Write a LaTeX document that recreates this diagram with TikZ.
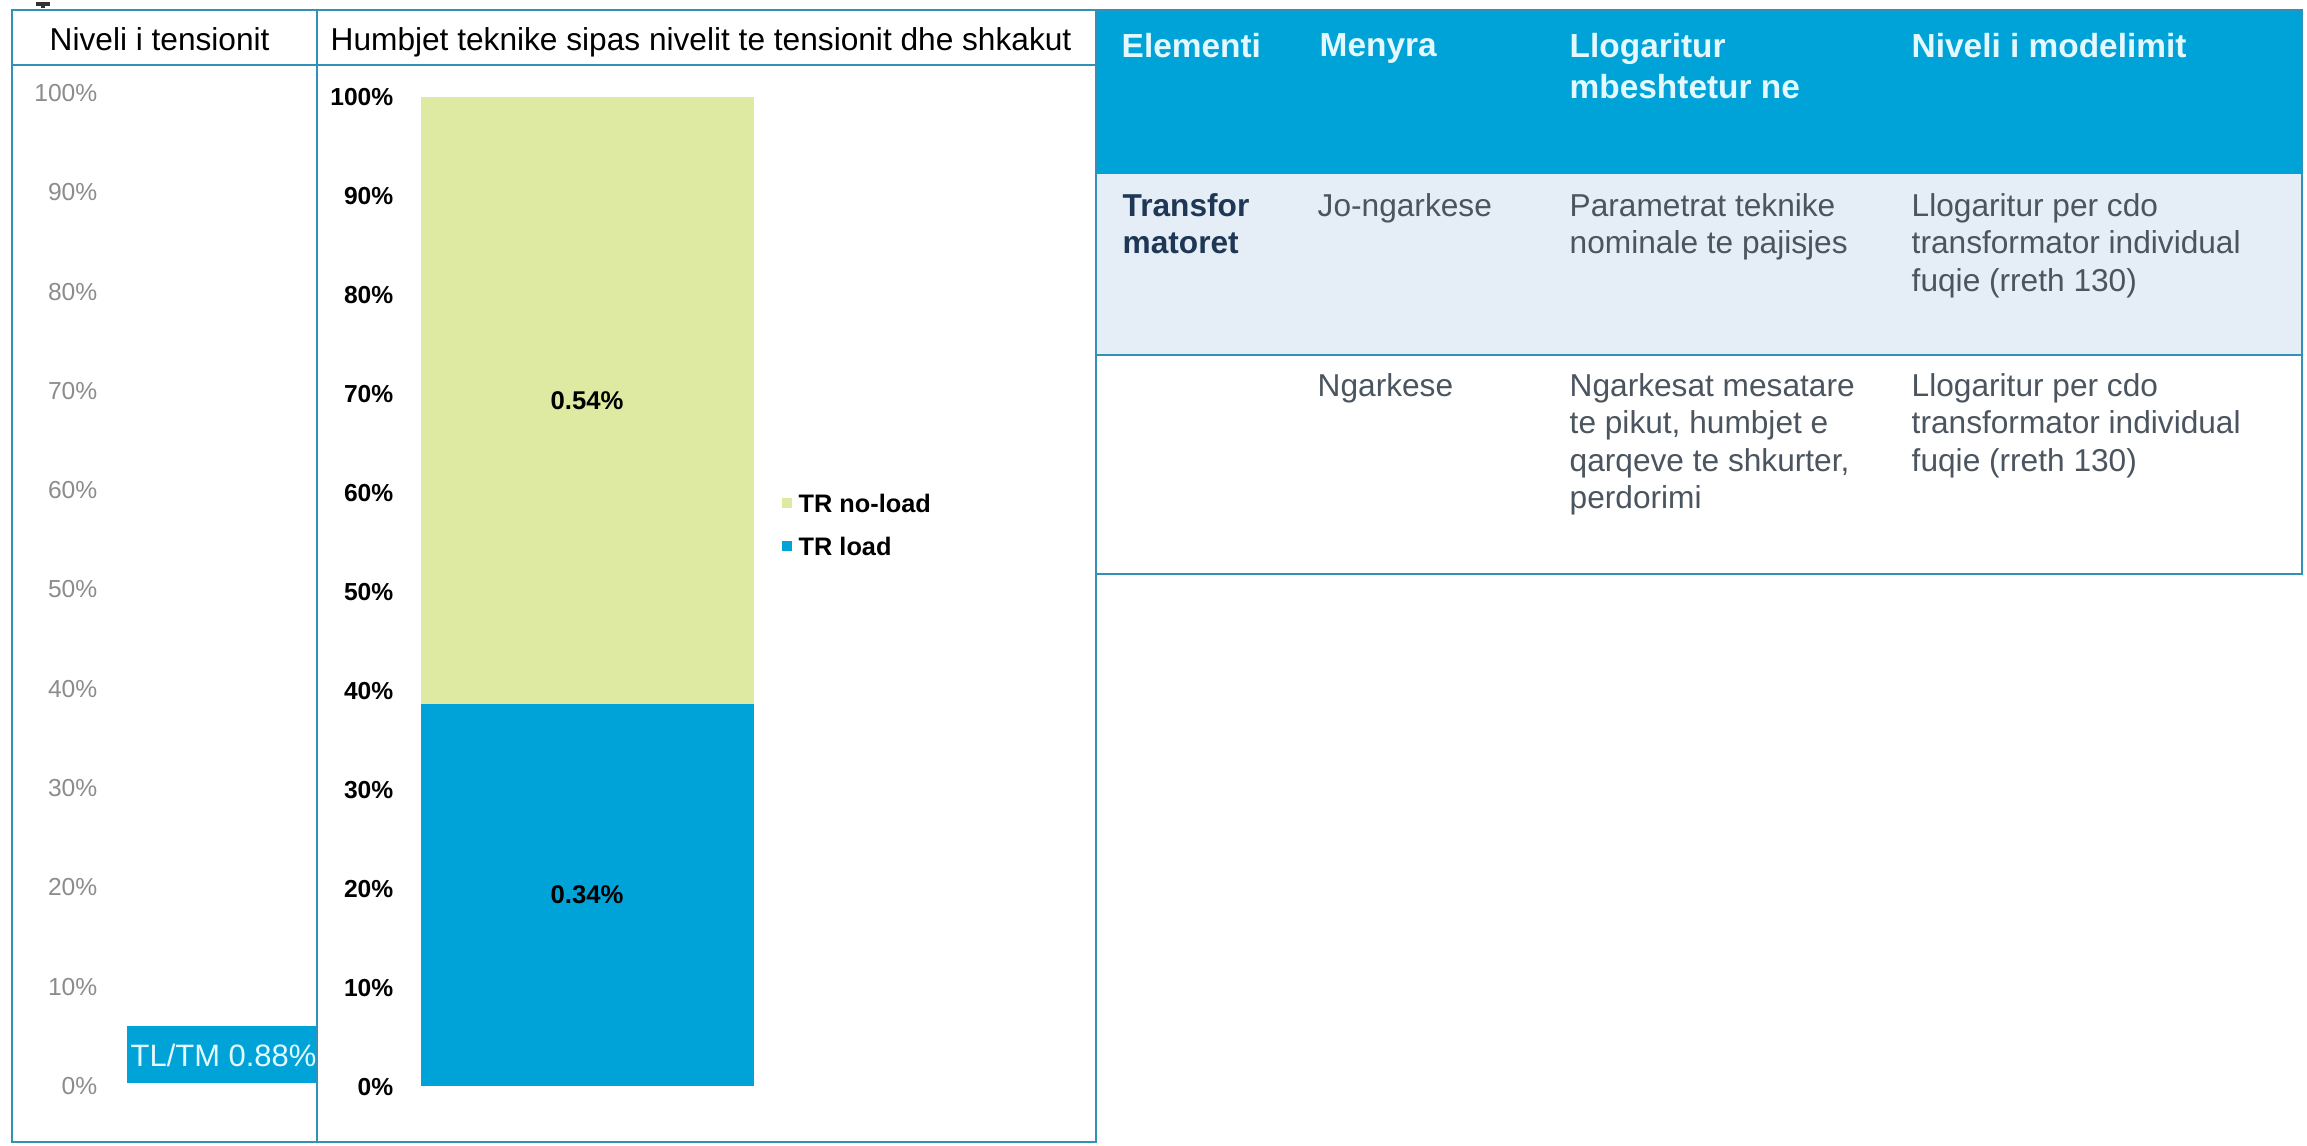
\documentclass[tikz,border=0pt]{standalone}
\usepackage{fontspec}
\setmainfont{Liberation Sans}
\definecolor{tblue}{RGB}{0,163,216}
\definecolor{tgreen}{RGB}{222,233,162}
\definecolor{trow}{RGB}{229,237,246}
\definecolor{tline}{RGB}{50,145,185}
\definecolor{ttext}{RGB}{75,85,95}
\definecolor{tnavy}{RGB}{30,55,85}
\definecolor{thead}{RGB}{228,248,255}
\begin{document}
\begin{tikzpicture}[x=0.01cm, y=-0.01cm,
    frame/.style={draw=tline, line width=0.8pt},
    axl/.style={anchor=east, inner sep=0pt, text=black!45, font=\fontsize{7}{8}\selectfont},
    axr/.style={anchor=east, inner sep=0pt, font=\fontsize{7}{8}\selectfont\bfseries},
    ttl/.style={anchor=base west, inner sep=0pt, font=\fontsize{9}{10}\selectfont},
    val/.style={inner sep=0pt, font=\fontsize{7.3}{8}\selectfont\bfseries},
    lg/.style={anchor=west, inner sep=0pt, font=\fontsize{7.2}{8}\selectfont\bfseries},
    hd/.style={anchor=north west, inner sep=0pt, align=left, text=thead, font=\fontsize{9.5}{11.4}\selectfont\bfseries},
    cell/.style={anchor=north west, inner sep=0pt, align=left, text=ttext, font=\fontsize{9}{10.6}\selectfont}]
    \useasboundingbox (0,0) rectangle (2307,1145);
    \def\barl{421}
    \def\barr{754}
    % table at the right
    \fill[tblue] (1096,10) rectangle (2302,174);
    \fill[trow] (1096,174) rectangle (2302,355);
    \draw[frame] (1096,10) rectangle (2302,574);
    \draw[frame] (1096,355) -- (2302,355);
    \node[hd] (h1) at (1121,33) {Elementi};
    \node[hd] (h2) at (1319,33) {Menyra};
    \node[hd] (h3) at (1569,33) {Llogaritur\\mbeshtetur ne};
    \node[hd] (h4) at (1911,33) {Niveli i modelimit};
    \node[cell, text=tnavy, font=\fontsize{9}{10.6}\selectfont\bfseries] (e1) at (1122,193) {Transfor\\matoret};
    \node[cell] (m1) at (1317,193) {Jo-ngarkese};
    \node[cell] (b1) at (1569,193) {Parametrat teknike\\nominale te pajisjes};
    \node[cell] (n1) at (1911,193) {Llogaritur per cdo\\transformator individual\\fuqie (rreth 130)};
    \node[cell] (m2) at (1317,373) {Ngarkese};
    \node[cell] (b2) at (1569,373) {Ngarkesat mesatare\\te pikut, humbjet e\\qarqeve te shkurter,\\perdorimi};
    \node[cell] (n2) at (1911,373) {Llogaritur per cdo\\transformator individual\\fuqie (rreth 130)};
    % bars
    \fill[tgreen] (\barl,97) rectangle (\barr,704);
    \fill[tblue] (\barl,704) rectangle (\barr,1086);
    \fill[tblue] (127,1026) rectangle (317,1083);
    % frames of the chart
    \draw[frame] (12,10) rectangle (1096,1142);
    \draw[frame] (12,65) -- (1096,65);
    \draw[frame] (317,10) -- (317,1142);
    \draw[line width=1.2pt, black!80] (36,4) -- (50,4) (43,4) -- (43,8);
    \node[ttl] (tens) at (49,50) {Niveli i tensionit};
    \node[ttl] (humb) at (330,50) {Humbjet teknike sipas nivelit te tensionit dhe shkakut};
    \foreach \p [count=\i from 0] in {100,90,...,0}{
        \node[axl] (l\p) at (98,{93+99.3*\i}) {\p\%};
        \node[axr] (r\p) at (394,{97+99*\i}) {\p\%};
    }
    \node[val] (noload) at (587,401) {0.54\%};
    \node[val] (load) at (587,895) {0.34\%};
    \node[anchor=west, inner sep=0pt, text=thead, font=\fontsize{8.8}{10}\selectfont] (tltm) at (130,1055) {TL/TM 0.88\%};
    % legend
    \fill[tgreen] (782,498) rectangle (792,508);
    \node[lg] (lgn) at (798,503) {TR no-load};
    \fill[tblue] (782,541) rectangle (792,551);
    \node[lg] (lgl) at (798,546) {TR load};
\end{tikzpicture}
\end{document}
